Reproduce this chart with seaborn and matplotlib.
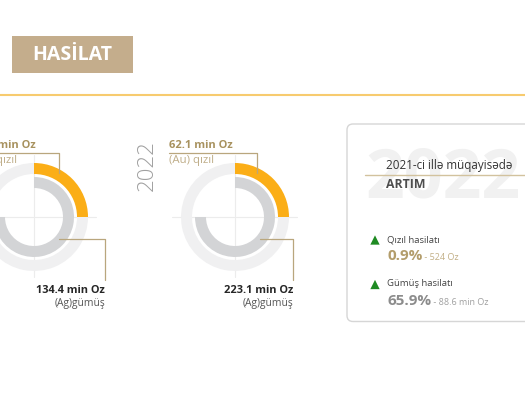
import numpy as np
import pandas as pd
import seaborn as sns
import matplotlib.pyplot as plt
from matplotlib.patches import Rectangle, FancyBboxPatch

# production figures (million Oz) per year - the 2021 gold label is cut off in the picture
years = ["2021", "2022"]
gold_moz = [61.5, 62.1]
silver_moz = [134.4, 223.1]
# share of the ring that each arc covers
gold_arc = [0.25, 0.25]
silver_arc = [0.75, 0.75]

# change vs 2021
change_names = ["Qızıl hasilatı", "Gümüş hasilatı"]
change_pct = [0.9, 65.9]
change_abs = ["524 Oz", "88.6 min Oz"]

W, H = 525, 396
GOLD = "#FBAE17"
RING_BG = "#F0F0F1"
SILVER = "#D3D4D6"
TAN = "#B9A67D"

sns.set_theme(style="white")
plt.rcParams["font.family"] = ["Open Sans", "DejaVu Sans"]

fig = plt.figure(figsize=(W / 100, H / 100), dpi=100)
ax = fig.add_axes([0, 0, 1, 1])

# donut layout (pixels), one entry per year
cx = [34, 235]
cy = 217
gold_lbl_x = [-28, 169]
gold_lead_x = [59, 257]
silver_lead_x = [105, 293]

for i in range(len(years)):
    c = (cx[i], cy)
    # thin cross behind the rings
    ax.plot([cx[i] - 63, cx[i] + 62], [cy, cy], color="#ECECEC", lw=0.8, zorder=1)
    ax.plot([cx[i], cx[i]], [cy - 62, cy + 60], color="#ECECEC", lw=0.8, zorder=1)
    # y axis is flipped later, so start at -90 and go counterclockwise (= clockwise on screen from 12 o'clock)
    w1, _ = ax.pie([gold_arc[i], 1 - gold_arc[i]], center=c, radius=54,
                   colors=[GOLD, RING_BG], startangle=-90, counterclock=True,
                   wedgeprops=dict(width=11, linewidth=0))
    w2, _ = ax.pie([silver_arc[i], 1 - silver_arc[i]], center=c, radius=40,
                   colors=[SILVER, "none"], startangle=-90, counterclock=True,
                   wedgeprops=dict(width=11, linewidth=0))
    for w in w1 + w2:
        w.set_zorder(2)

    # gold label + leader
    ax.text(gold_lbl_x[i], 146, f"{gold_moz[i]:.1f} min Oz", fontsize=8,
            fontweight="bold", color="#A8925F", ha="left", va="center")
    ax.text(gold_lbl_x[i], 160.5, "(Au) qızıl", fontsize=8.2, color="#BFAD88",
            ha="left", va="center")
    ax.plot([gold_lbl_x[i], gold_lead_x[i], gold_lead_x[i]], [152.7, 152.7, 173],
            color=TAN, lw=0.9, zorder=3)

    # silver label + leader
    ax.plot([cx[i] + 25, silver_lead_x[i], silver_lead_x[i]], [239.3, 239.3, 280],
            color=TAN, lw=0.9, zorder=3)
    ax.text(silver_lead_x[i], 290.7, f"{silver_moz[i]:.1f} min Oz", fontsize=7.9,
            fontweight="bold", color="#262626", ha="right", va="center")
    ax.text(silver_lead_x[i], 303.5, "(Ag)gümüş", fontsize=7.4, color="#555555",
            ha="right", va="center")

    # rotated year (the 2021 one falls outside the picture)
    if cx[i] - 87.5 > 0:
        ax.text(cx[i] - 87.5, 166, years[i], rotation=90, fontsize=16, fontweight="light",
                color="#A0A0A0", ha="center", va="center")

# header
ax.add_patch(Rectangle((12, 36), 121, 37, facecolor="#C4AD8C", edgecolor="none"))
ax.text(72.5, 55, "HASİLAT", color="white", fontsize=14, fontweight="bold",
        ha="center", va="center")
ax.plot([0, W], [95, 95], color="#F7CB6F", lw=1.5)

# comparison panel
ax.add_patch(FancyBboxPatch((347, 124), 200, 197.5,
                            boxstyle="round,pad=0,rounding_size=6",
                            facecolor="white", edgecolor="#D6D6D6", lw=1, zorder=1))
ax.text(365, 179, years[1], fontsize=49, fontweight="bold", color="#F1F1F1",
        ha="left", va="center", zorder=2)
ax.text(386, 165, "2021-ci illə müqayisədə", fontsize=8.4, color="#333333",
        ha="left", va="center", zorder=3)
ax.plot([365, W], [174.5, 174.5], color="#D2C29E", lw=1, zorder=3)
ax.text(386, 184.5, "ARTIM", fontsize=8.8, fontweight="bold", color="#4D4D4D",
        ha="left", va="center", zorder=3)

rows = pd.DataFrame({"name": change_names, "pct": change_pct, "abs": change_abs,
                     "y": [240, 284.5]})
rows["marker"] = np.where(rows["pct"] > 0, "up", "down")
sns.scatterplot(data=rows, x=np.full(len(rows), 375), y="y", style="marker",
                markers={"up": "^", "down": "v"}, color="#1E8A22", s=45,
                linewidth=0, legend=False, ax=ax, zorder=4)

pct_colors = ["#B39D6B", "#8C8C8C"]
abs_colors = ["#C2AF86", "#A0A0A0"]
for i, r in rows.iterrows():
    ax.text(387, r["y"] - 0.5, r["name"], fontsize=6.8, color="#444444",
            ha="left", va="center", zorder=4)
    t = ax.text(387, r["y"] + 16.5, f"{r['pct']:.1f}%", fontsize=11, fontweight="bold",
                color=pct_colors[i], ha="left", va="center", zorder=4)
    ax.annotate(f" - {r['abs']}", xy=(1, 0.22), xycoords=t, fontsize=6.5, color=abs_colors[i],
                ha="left", va="baseline", zorder=4)

ax.set_xlim(0, W)
ax.set_ylim(H, 0)
ax.set_aspect("auto")
ax.axis("off")

fig.savefig("out.png", dpi=100)
